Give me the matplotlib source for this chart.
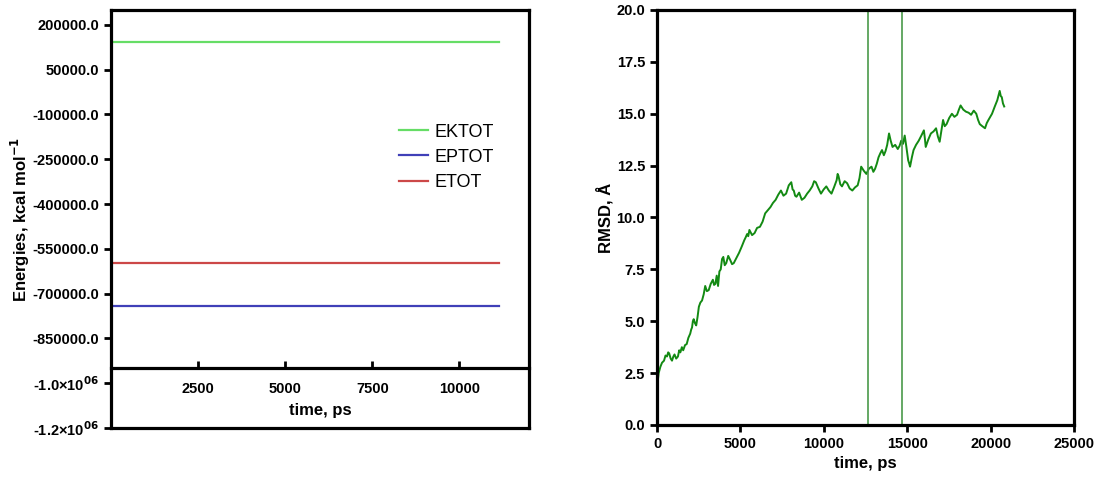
"""
MD energies and RMSD, Prism-style panels
"""
import matplotlib
matplotlib.use("Agg")
import matplotlib.pyplot as plt
from matplotlib.ticker import FixedLocator, FixedFormatter

plt.rcParams['font.family'] = ['Liberation Sans', 'DejaVu Sans']

# energies (left panel)
e_time = [0, 2500, 5000, 7500, 10000, 11150]
ektot = [143000, 143000, 143000, 143000, 143000, 143000]
eptot = [-740000, -740000, -740000, -740000, -740000, -740000]
etot = [-597000, -597000, -597000, -597000, -597000, -597000]
e_yticks = [200000, 50000, -100000, -250000, -400000, -550000, -700000,
            -850000, -1000000, -1150000]
e_ylabels = ['200000.0', '50000.0', '-100000.0', '-250000.0', '-400000.0',
             '-550000.0', '-700000.0', '-850000.0',
             r'-1.0×10$^{\mathbf{06}}$', r'-1.2×10$^{\mathbf{06}}$']
e_xticks = [2500, 5000, 7500, 10000]

# rmsd (right panel)
r_time = [30, 100, 200, 300, 420, 510, 600, 670, 730, 820, 900, 980, 1050,
          1150, 1255, 1330, 1400, 1490, 1570, 1680, 1780, 1880, 1990, 2050,
          2100, 2150, 2200, 2280, 2350, 2430, 2510, 2600, 2700, 2800, 2890,
          2990, 3100, 3220, 3350, 3420, 3500, 3580, 3660, 3740, 3820, 3900,
          3975, 4060, 4150, 4270, 4390, 4500, 4600, 4760, 4920, 5080, 5230,
          5320, 5400, 5470, 5540, 5700, 5850, 6000, 6170, 6330, 6485, 6640,
          6800, 6950, 7110, 7270, 7430, 7580, 7740, 7900, 8050, 8130, 8200,
          8280, 8360, 8520, 8680, 8840, 9000, 9150, 9310, 9420, 9520, 9680,
          9830, 9990, 10150, 10300, 10460, 10610, 10770, 10830, 10880, 10990,
          11090, 11250, 11400, 11550, 11710, 11870, 12030, 12140, 12240,
          12400, 12550, 12700, 12860, 12970, 13075, 13180, 13280, 13390,
          13490, 13600, 13700, 13800, 13910, 14010, 14120, 14280, 14435,
          14540, 14640, 14750, 14850, 14950, 15060, 15120, 15170, 15280,
          15380, 15530, 15690, 15850, 16000, 16060, 16110, 16260, 16420,
          16580, 16730, 16840, 16945, 17050, 17150, 17250, 17360, 17520,
          17680, 17830, 17990, 18100, 18200, 18360, 18520, 18680, 18830,
          18990, 19140, 19250, 19350, 19500, 19665, 19770, 19870, 19980,
          20085, 20250, 20400, 20480, 20545, 20610, 20670, 20740, 20815]
rmsd = [2.0, 2.5, 2.8, 3.0, 3.1, 3.35, 3.3, 3.5, 3.45, 3.2, 3.1, 3.3, 3.4,
        3.2, 3.3, 3.6, 3.5, 3.75, 3.6, 3.85, 3.9, 4.2, 4.4, 4.6, 4.7, 5.0,
        5.1, 4.9, 4.8, 5.2, 5.7, 5.9, 6.0, 6.3, 6.7, 6.45, 6.5, 6.8, 7.0,
        6.75, 6.8, 7.2, 6.7, 7.4, 7.5, 8.0, 8.1, 7.7, 7.8, 8.15, 7.95,
        7.75, 7.8, 8.05, 8.3, 8.6, 8.9, 9.05, 9.2, 9.1, 9.4, 9.15, 9.25,
        9.5, 9.55, 9.8, 10.2, 10.35, 10.5, 10.7, 10.85, 11.1, 11.3, 11.05,
        11.15, 11.55, 11.7, 11.35, 11.3, 11.05, 11.0, 11.2, 10.85, 10.95,
        11.15, 11.3, 11.5, 11.75, 11.7, 11.4, 11.15, 11.35, 11.5, 11.3,
        11.15, 11.45, 11.8, 12.1, 12.0, 11.6, 11.5, 11.75, 11.65, 11.4,
        11.3, 11.45, 11.55, 11.9, 12.45, 12.25, 12.1, 12.35, 12.45, 12.2,
        12.35, 12.6, 12.9, 13.1, 13.25, 13.0, 13.2, 13.5, 14.05, 13.7, 13.4,
        13.5, 13.3, 13.45, 13.7, 13.55, 13.95, 13.4, 12.75, 12.6, 12.45,
        12.9, 13.25, 13.5, 13.7, 13.95, 14.2, 13.8, 13.4, 13.75, 14.05,
        14.15, 14.3, 13.9, 13.65, 14.2, 14.7, 14.4, 14.5, 14.8, 15.0, 14.85,
        14.95, 15.2, 15.4, 15.2, 15.1, 15.05, 14.95, 15.15, 15.0, 14.7, 14.5,
        14.4, 14.3, 14.55, 14.7, 14.85, 15.0, 15.35, 15.65, 15.9, 16.1,
        15.85, 15.8, 15.5, 15.35]
spikes = [12630, 14700]

fig = plt.figure(figsize=(11.07, 4.83), dpi=100)

# ---- left panel
ax1 = fig.add_axes([0.1003, 0.1139, 0.3776, 0.8654])
ax1.plot(e_time, ektot, color='#66dd66', lw=1.6, label='EKTOT')
ax1.plot(e_time, eptot, color='#4040b8', lw=1.6, label='EPTOT')
ax1.plot(e_time, etot, color='#cc4848', lw=1.6, label='ETOT')
ax1.set_xlim(0, 12000)
ax1.set_ylim(-1150000, 250000)
ax1.yaxis.set_major_locator(FixedLocator(e_yticks))
ax1.yaxis.set_major_formatter(FixedFormatter(e_ylabels))
ax1.set_xticks(e_xticks)
ax1.spines['bottom'].set_position(('data', -950000))
for s in ax1.spines.values():
    s.set_linewidth(2.3)
ax1.axhline(-1150000, color='black', lw=2.3, clip_on=False)
ax1.tick_params(axis='y', direction='out', length=5, width=2, labelsize=10.5)
ax1.tick_params(axis='x', direction='in', length=5, width=2, labelsize=10.5,
                pad=10)
for lab in ax1.get_xticklabels() + ax1.get_yticklabels():
    lab.set_fontweight('bold')
ax1.set_xlabel('time, ps', fontsize=12, fontweight='bold', labelpad=5)
ax1.set_ylabel('Energies, kcal mol$^{\\mathbf{-1}}$', fontsize=12,
               fontweight='bold', labelpad=0)
ax1.legend(loc='upper left', bbox_to_anchor=(0.69, 0.728), frameon=False,
           fontsize=13, handlelength=1.6, handletextpad=0.35, borderpad=0,
           borderaxespad=0, labelspacing=0.45)

# ---- right panel
ax2 = fig.add_axes([0.5935, 0.1201, 0.3767, 0.8592])
ax2.plot(r_time, rmsd, color='#138a13', lw=1.4)
ax2.vlines(spikes, 0, 20, color='#4a9a4a', lw=1.2)
ax2.set_xlim(0, 25000)
ax2.set_ylim(0, 20)
ax2.set_xticks([0, 5000, 10000, 15000, 20000, 25000])
ax2.set_yticks([0, 2.5, 5, 7.5, 10, 12.5, 15, 17.5, 20])
ax2.set_yticklabels(['0.0', '2.5', '5.0', '7.5', '10.0', '12.5', '15.0',
                     '17.5', '20.0'])
for s in ax2.spines.values():
    s.set_linewidth(2.3)
ax2.tick_params(direction='out', length=5, width=2, labelsize=10.5)
for lab in ax2.get_xticklabels() + ax2.get_yticklabels():
    lab.set_fontweight('bold')
ax2.set_xlabel('time, ps', fontsize=12, fontweight='bold', labelpad=4)
ax2.set_ylabel('RMSD, Å', fontsize=12, fontweight='bold', labelpad=2)

fig.savefig('out.png', dpi=100)
